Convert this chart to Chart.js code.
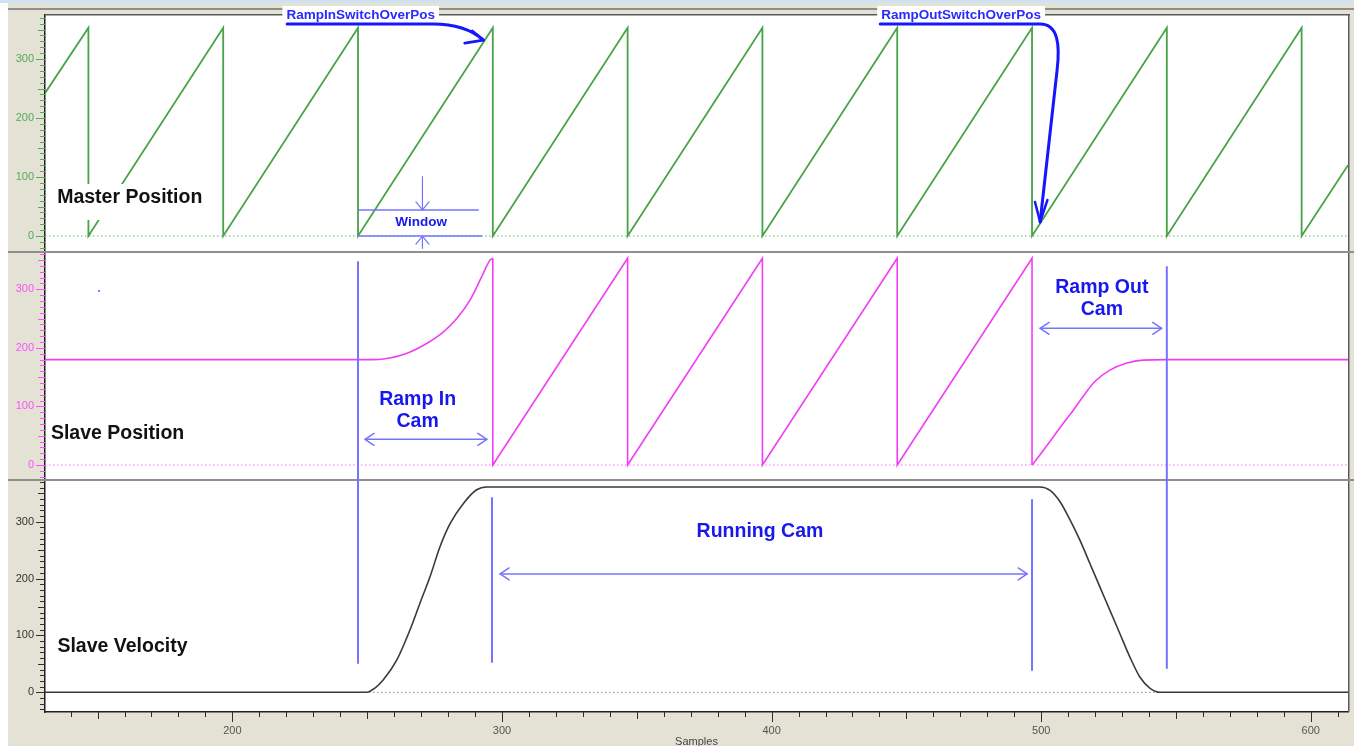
<!DOCTYPE html>
<html><head><meta charset="utf-8">
<script src="https://cdn.jsdelivr.net/npm/chart.js@4.4.1/dist/chart.umd.min.js"></script>
<style>html,body{margin:0;padding:0;background:#fff;overflow:hidden}canvas{display:block}</style>
</head><body><canvas id="c" width="1354" height="746"></canvas>
<script>
// ---- data ----
const xRange = [130.5, 613.8];
const xTickLabels = [200, 300, 400, 500, 600];
const yTickLabels = [0, 100, 200, 300];

const masterSamples = [130.5,146.6,146.6,196.6,196.6,246.6,246.6,296.6,296.6,346.6,346.6,396.6,396.6,446.6,446.6,496.6,496.6,546.6,546.6,596.6,596.6,613.8];
const masterPos     = [242,  353,  0,    353,  0,    353,  0,    353,  0,    353,  0,    353,  0,    353,  0,    353,  0,    353,  0,    353,  0,    120];

// slave position: hold + ramp-in cam
const slaveInSamples = [130.5,252,256,264.8,272.2,278.2,283.4,288.2,291.9,295.6,296.6];
const slaveInPos     = [180,  180,181,191,  208,  227,  251,  282,  316,  350,  353];
// slave position: running cam
const slaveRunSamples = [296.6,296.6,346.6,346.6,396.6,396.6,446.6,446.6,496.6,496.6];
const slaveRunPos     = [353,  0,    353,  0,    353,  0,    353,  0,    353,  0];
// slave position: ramp-out cam + hold
const slaveOutSamples = [496.6,500,504,508,512,516,520,525.5,531.8,537.8,546.7,613.8];
const slaveOutPos     = [0,    20, 45, 70, 94, 120,143,162,  174,  179,  180,  180];

const velSamples = [130.5,249.9,253,256,261,265.9,269.6,273.3,277,280.8,285.7,290.6,294.4,499.6,503.3,507,510.7,514.4,518.1,521.8,525.5,529.2,532.9,536.6,540.4,544.1,613.8];
const slaveVel   = [0,    0,    8,  22, 57, 110,  157,  203,  256,297,  332,  356,  361,  361,  355,  335,303,  267,  226,  185,  144,  103,  62,   27,   7,    0,    0];

const panelLabels = ['Master Position', 'Slave Position', 'Slave Velocity'];

// ---- styles ----
const FONT = '"Liberation Sans", Arial, sans-serif';
const GREEN = '#46a346', MAG = '#f23ef2', VEL = '#3a3a3a';
const BLUE_TXT = '#1818ee', BLUE_LINE = '#7474ff', BLUE_BOLD = '#1616ff';
Chart.defaults.font.family = FONT;

const pts = (xs, ys) => xs.map((x, i) => ({x, y: ys[i]}));

function yAxis(weight, stackWeight, min, max, color) {
  return {
    type: 'linear', position: 'left', stack: 'panels', stackWeight, weight, min, max,
    afterFit(s) { s.width = 45; },
    afterBuildTicks(s) { s.ticks = yTickLabels.map(v => ({value: v})); },
    grid: {display: false, drawTicks: true, tickLength: 9},
    border: {display: true, color: '#1e1e1e', width: 1.5},
    ticks: {color, font: {size: 11}, padding: 2}
  };
}

// ---- drawing helpers ----
function poly(ctx, p, color, w, dash) {
  ctx.save(); ctx.strokeStyle = color; ctx.lineWidth = w; ctx.setLineDash(dash || []);
  ctx.lineCap = 'round'; ctx.lineJoin = 'round';
  ctx.beginPath(); p.forEach((q, i) => i ? ctx.lineTo(q[0], q[1]) : ctx.moveTo(q[0], q[1])); ctx.stroke(); ctx.restore();
}
function head(ctx, tx, ty, dx, dy, len, half, color, w) {
  const L = Math.hypot(dx, dy); dx /= L; dy /= L;
  const bx = tx - dx * len, by = ty - dy * len, nx = -dy, ny = dx;
  poly(ctx, [[bx + nx * half, by + ny * half], [tx, ty], [bx - nx * half, by - ny * half]], color, w);
}
function text(ctx, str, x, y, size, color, align, box) {
  ctx.save();
  ctx.font = 'bold ' + size + 'px ' + FONT;
  ctx.textAlign = align; ctx.textBaseline = 'middle';
  if (box) {
    const w = ctx.measureText(str).width;
    const left = align === 'center' ? x - w / 2 : x;
    ctx.fillStyle = '#fff';
    ctx.fillRect(left - box.padX, box.top, w + 2 * box.padX, box.bottom - box.top);
  }
  ctx.fillStyle = color; ctx.fillText(str, x, y); ctx.restore();
}

const decor = {
  id: 'decor',
  beforeDraw(chart) {
    const {ctx, width, height, chartArea: a} = chart;
    ctx.save();
    ctx.fillStyle = '#fff'; ctx.fillRect(0, 0, width, height);
    ctx.fillStyle = '#e4e2d4'; ctx.fillRect(8, 3, width - 8, height - 3);
    ctx.fillStyle = '#cfe1f3'; ctx.fillRect(0, 0, width, 3);
    ctx.fillStyle = '#8e8e8e'; ctx.fillRect(8, a.top - 7, width - 8, 2);
    ctx.fillStyle = '#fff'; ctx.fillRect(a.left, a.top, a.right - a.left, a.bottom - a.top);
    ctx.restore();
  },
  afterDatasetsDraw(chart) {
    const {ctx, width, chartArea: a, scales} = chart;
    const X = v => scales.x.getPixelForValue(v);
    const Y = (id, v) => scales[id].getPixelForValue(v);

    // frame and panel separators
    ctx.save();
    ctx.fillStyle = '#5a5a5a';
    ctx.fillRect(a.left, a.top - 1, a.right - a.left + 2, 1.5);
    ctx.fillRect(a.right, a.top - 1, 1.5, a.bottom - a.top + 1);
    ctx.fillStyle = '#8e8e8e';
    ctx.fillRect(8, Math.round(scales.y1.bottom) - 1, width - 8, 2);
    ctx.fillRect(8, Math.round(scales.y2.bottom) - 1, width - 8, 2);
    ctx.restore();

    // y tick marks
    [['y1', '#55aa55'], ['y2', '#ff4dff'], ['y3', '#2e2e2e']].forEach(([id, col]) => {
      const s = scales[id];
      ctx.save(); ctx.strokeStyle = col; ctx.lineWidth = 1;
      for (let v = Math.ceil(s.min / 10) * 10; v <= s.max; v += 10) {
        const py = Math.round(s.getPixelForValue(v)) + 0.5;
        if (py < s.top || py > s.bottom) continue;
        const len = v % 100 === 0 ? 9 : (v % 50 === 0 ? 7 : 5);
        ctx.beginPath(); ctx.moveTo(a.left - len, py); ctx.lineTo(a.left, py); ctx.stroke();
      }
      ctx.restore();
    });
    // x tick marks
    ctx.save(); ctx.strokeStyle = '#2e2e2e'; ctx.lineWidth = 1;
    for (let v = Math.ceil(scales.x.min / 10) * 10; v <= scales.x.max; v += 10) {
      const px = Math.round(X(v)) + 0.5;
      const len = v % 100 === 0 ? 10 : (v % 50 === 0 ? 7 : 5);
      ctx.beginPath(); ctx.moveTo(px, a.bottom); ctx.lineTo(px, a.bottom + len); ctx.stroke();
    }
    ctx.restore();

    // panel labels
    text(ctx, panelLabels[0], X(135), Y('y1', 64.4), 19.5, '#111', 'left',
      {padX: 5, top: Y('y1', 88.1), bottom: Y('y1', 27.1)});
    text(ctx, panelLabels[1], X(132.7), Y('y2', 54.1), 19.5, '#111', 'left');
    text(ctx, panelLabels[2], X(135.1), Y('y3', 80.2), 19.5, '#111', 'left');

    // top switch-over labels and curved arrows
    text(ctx, 'RampInSwitchOverPos', X(247.6), Y('y1', 374.6), 13.5, '#2a2aff', 'center',
      {padX: 4, top: Y('y1', 389.8), bottom: Y('y1', 362.7)});
    text(ctx, 'RampOutSwitchOverPos', X(470.3), Y('y1', 374.6), 13.5, '#2a2aff', 'center',
      {padX: 4, top: Y('y1', 389.8), bottom: Y('y1', 362.7)});

    ctx.save(); ctx.strokeStyle = BLUE_BOLD; ctx.lineWidth = 3; ctx.lineCap = 'round';
    ctx.beginPath();
    ctx.moveTo(X(220.3), Y('y1', 359.3)); ctx.lineTo(X(274.4), Y('y1', 359.3));
    ctx.quadraticCurveTo(X(286.3), Y('y1', 359.3), X(293.1), Y('y1', 332.2));
    ctx.stroke();
    ctx.beginPath();
    ctx.moveTo(X(440.3), Y('y1', 359.3)); ctx.lineTo(X(499.6), Y('y1', 359.3));
    ctx.bezierCurveTo(X(506.3), Y('y1', 359.3), X(507.0), Y('y1', 323.7), X(505.9), Y('y1', 281.4));
    ctx.quadraticCurveTo(X(502.6), Y('y1', 145.8), X(499.6), Y('y1', 23.7));
    ctx.stroke();
    ctx.restore();
    poly(ctx, [[X(289.0), Y('y1', 347.5)], [X(293.1), Y('y1', 332.2)], [X(286.2), Y('y1', 327.0)]], BLUE_BOLD, 2.8);
    poly(ctx, [[X(497.7), Y('y1', 57.6)], [X(499.6), Y('y1', 23.7)], [X(502.3), Y('y1', 61)]], BLUE_BOLD, 2.5);

    // Window annotation
    poly(ctx, [[X(246.8), Y('y1', 44.1)], [X(291.2), Y('y1', 44.1)]], BLUE_LINE, 1.5);
    poly(ctx, [[X(246.8), Y('y1', 0)], [X(292.5), Y('y1', 0)]], BLUE_LINE, 1.5);
    poly(ctx, [[X(270.5), Y('y1', 100.5)], [X(270.5), Y('y1', 44.1)]], BLUE_LINE, 1.2);
    head(ctx, X(270.5), Y('y1', 44.1), 0, 1, 8, 6.5, BLUE_LINE, 1.2);
    poly(ctx, [[X(270.5), Y('y1', -20.8)], [X(270.5), Y('y1', 0)]], BLUE_LINE, 1.2);
    head(ctx, X(270.5), Y('y1', 0), 0, -1, 8, 6.5, BLUE_LINE, 1.2);
    text(ctx, 'Window', X(270), Y('y1', 22.5), 13.5, BLUE_TXT, 'center');

    // phase boundary lines
    poly(ctx, [[X(246.6), Y('y2', 346.6)], [X(246.6), Y('y3', 51.5)]], BLUE_LINE, 2);
    poly(ctx, [[X(546.6), Y('y2', 338)], [X(546.6), Y('y3', 42.7)]], BLUE_LINE, 2);
    poly(ctx, [[X(296.3), Y('y3', 341.6)], [X(296.3), Y('y3', 53.3)]], BLUE_LINE, 2);
    poly(ctx, [[X(496.6), Y('y3', 338)], [X(496.6), Y('y3', 39.2)]], BLUE_LINE, 2);

    // double arrows
    [['y2', 43.9, 249.2, 294.4], ['y2', 233.4, 499.6, 544.7], ['y3', 208, 299.3, 494.8]].forEach(([id, v, s0, s1]) => {
      const y = Y(id, v), x0 = X(s0), x1 = X(s1);
      poly(ctx, [[x0, y], [x1, y]], BLUE_LINE, 1.5);
      head(ctx, x0, y, -1, 0, 9, 6, BLUE_LINE, 1.5);
      head(ctx, x1, y, 1, 0, 9, 6, BLUE_LINE, 1.5);
    });
    text(ctx, 'Ramp In', X(268.7), Y('y2', 112.2), 19.5, BLUE_TXT, 'center');
    text(ctx, 'Cam', X(268.7), Y('y2', 73.9), 19.5, BLUE_TXT, 'center');
    text(ctx, 'Ramp Out', X(522.5), Y('y2', 302.2), 19.5, BLUE_TXT, 'center');
    text(ctx, 'Cam', X(522.5), Y('y2', 264.6), 19.5, BLUE_TXT, 'center');
    text(ctx, 'Running Cam', X(395.7), Y('y3', 282), 19.5, BLUE_TXT, 'center');

    // stray blue pixel
    ctx.fillStyle = '#7a7aff'; ctx.fillRect(Math.round(X(150.2)), Math.round(Y('y2', 298.8)), 2, 2);
  }
};

new Chart(document.getElementById('c'), {
  type: 'line',
  data: {
    datasets: [
      {data: pts(masterSamples, masterPos), yAxisID: 'y1', borderColor: GREEN, borderWidth: 1.8},
      {data: pts(slaveInSamples, slaveInPos), yAxisID: 'y2', borderColor: MAG, borderWidth: 1.6, cubicInterpolationMode: 'monotone'},
      {data: pts(slaveRunSamples, slaveRunPos), yAxisID: 'y2', borderColor: MAG, borderWidth: 1.6},
      {data: pts(slaveOutSamples, slaveOutPos), yAxisID: 'y2', borderColor: MAG, borderWidth: 1.6, cubicInterpolationMode: 'monotone'},
      {data: pts(velSamples, slaveVel), yAxisID: 'y3', borderColor: VEL, borderWidth: 1.6, cubicInterpolationMode: 'monotone'},
      {data: pts(xRange, [0, 0]), yAxisID: 'y1', borderColor: '#62b862', borderWidth: 1, borderDash: [1.5, 2.5]},
      {data: pts(xRange, [0, 0]), yAxisID: 'y2', borderColor: '#ff66ff', borderWidth: 1, borderDash: [1.5, 2.5]},
      {data: pts(xRange, [0, 0]), yAxisID: 'y3', borderColor: '#8a8a8a', borderWidth: 1, borderDash: [1.5, 2.5]}
    ]
  },
  options: {
    responsive: false, animation: false, devicePixelRatio: 1,
    layout: {padding: {top: 15, right: 6, left: 0, bottom: 0}},
    elements: {point: {radius: 0}, line: {tension: 0}},
    plugins: {legend: {display: false}, tooltip: {enabled: false}},
    scales: {
      x: {
        type: 'linear', position: 'bottom', min: xRange[0], max: xRange[1],
        afterFit(s) { s.height = 34; },
        afterBuildTicks(s) { s.ticks = xTickLabels.map(v => ({value: v})); },
        grid: {display: false, drawTicks: true, tickLength: 10},
        border: {display: true, color: '#1e1e1e', width: 1.5},
        ticks: {color: '#555', font: {size: 11}, padding: 2, maxRotation: 0, autoSkip: false},
        title: {display: true, text: 'Samples', color: '#444', font: {size: 11}, padding: {top: 0, bottom: -3}}
      },
      y1: yAxis(3, 237, -27.1, 374.6, '#55aa55'),
      y2: yAxis(2, 228, -25.6, 363.7, '#ff4dff'),
      y3: yAxis(1, 232, -34.6, 373.2, '#333')
    }
  },
  plugins: [decor]
});
</script>
</body></html>
